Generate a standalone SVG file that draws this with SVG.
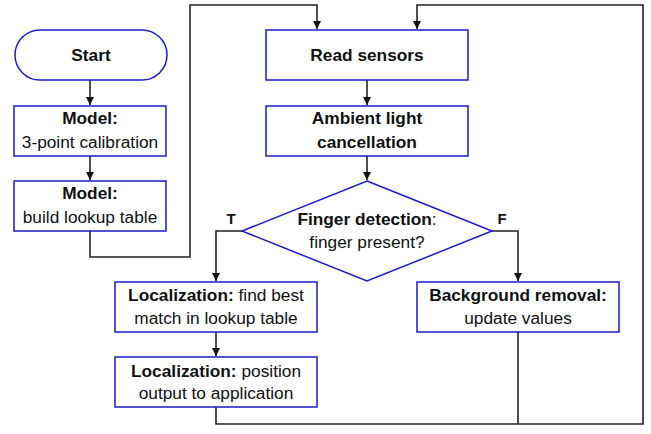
<svg xmlns="http://www.w3.org/2000/svg" width="651" height="434" viewBox="0 0 651 434">
<style>
.box{fill:#fff;stroke:#1a1acc;stroke-width:1.5}
.ln{fill:none;stroke:#222;stroke-width:1.6}
text{font-family:"Liberation Sans",Arial,sans-serif;font-size:17.3px;fill:#111;text-anchor:middle}
.b{font-weight:bold}
.lbl{font-weight:bold;font-size:15px}
</style>
<defs>
<marker id="ah" markerWidth="8" markerHeight="10" refX="8" refY="5" orient="auto" markerUnits="userSpaceOnUse">
<path d="M0,1 L8,5 L0,9 Z" fill="#111"/>
</marker>
</defs>
<rect width="651" height="434" fill="#fff"/>
<g id="connectors">
<line class="ln" x1="90" y1="80" x2="90" y2="105" marker-end="url(#ah)"/>
<line class="ln" x1="90" y1="156" x2="90" y2="180" marker-end="url(#ah)"/>
<polyline class="ln" points="90,231 90,257 190,257 190,5 317,5 317,29" marker-end="url(#ah)"/>
<line class="ln" x1="367" y1="80" x2="367" y2="105" marker-end="url(#ah)"/>
<line class="ln" x1="367" y1="156" x2="367" y2="180" marker-end="url(#ah)"/>
<polyline class="ln" points="242,231 216,231 216,281" marker-end="url(#ah)"/>
<polyline class="ln" points="492,231 518,231 518,281" marker-end="url(#ah)"/>
<line class="ln" x1="216" y1="332" x2="216" y2="356" marker-end="url(#ah)"/>
<polyline class="ln" points="216,407 216,424 643,424 643,5 417,5 417,29" marker-end="url(#ah)"/>
<line class="ln" x1="518" y1="332" x2="518" y2="424"/>
<text class="lbl" x="231" y="224">T</text>
<text class="lbl" x="502" y="224">F</text>
</g>
<g id="start">
<rect class="box" x="15" y="30" width="152" height="50" rx="25" ry="25"/>
<text class="b" x="91" y="61">Start</text>
</g>
<g id="model1">
<rect class="box" x="14" y="106" width="152" height="50"/>
<text class="b" x="90" y="124">Model:</text>
<text x="90" y="148">3-point calibration</text>
</g>
<g id="model2">
<rect class="box" x="14" y="181" width="152" height="50"/>
<text class="b" x="90" y="199">Model:</text>
<text x="90" y="223">build lookup table</text>
</g>
<g id="read">
<rect class="box" x="266" y="30" width="202" height="50"/>
<text class="b" x="367" y="61">Read sensors</text>
</g>
<g id="ambient">
<rect class="box" x="266" y="106" width="202" height="50"/>
<text class="b" x="367" y="124">Ambient light</text>
<text class="b" x="367" y="148">cancellation</text>
</g>
<g id="finger">
<polygon class="box" points="367,181 492,231 367,281 242,231"/>
<text x="367" y="225"><tspan class="b">Finger detection</tspan>:</text>
<text x="367" y="248">finger present?</text>
</g>
<g id="loc1">
<rect class="box" x="115" y="282" width="202" height="50"/>
<text x="216" y="301"><tspan class="b">Localization:</tspan> find best</text>
<text x="216" y="324">match in lookup table</text>
</g>
<g id="loc2">
<rect class="box" x="115" y="357" width="202" height="50"/>
<text x="216" y="377"><tspan class="b">Localization:</tspan> position</text>
<text x="216" y="399">output to application</text>
</g>
<g id="background">
<rect class="box" x="417" y="282" width="202" height="50"/>
<text class="b" x="518" y="301">Background removal:</text>
<text x="518" y="324">update values</text>
</g>
</svg>
